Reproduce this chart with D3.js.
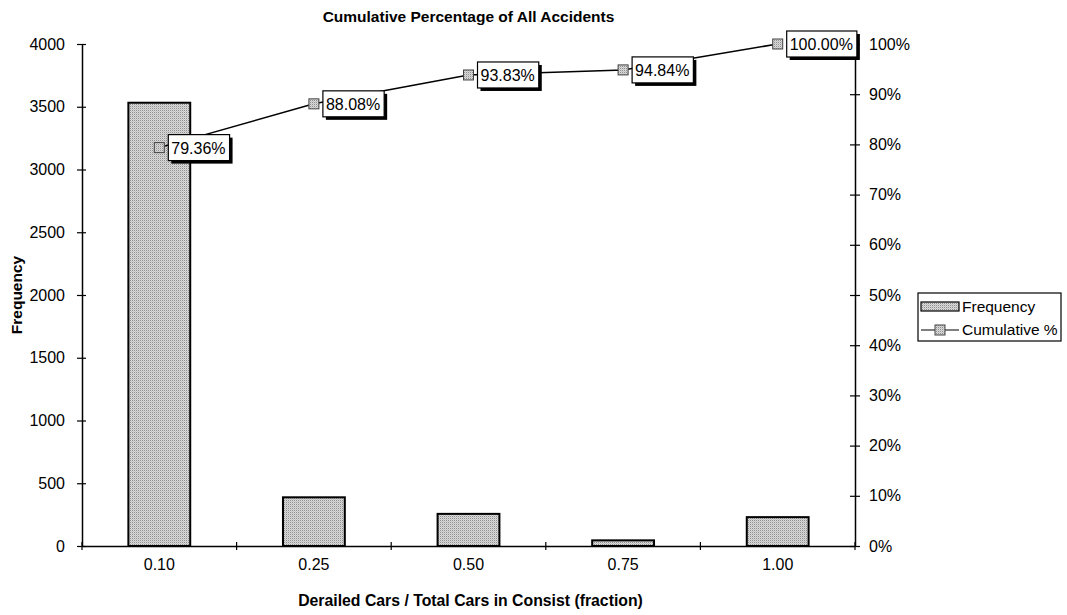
<!DOCTYPE html>
<html><head><meta charset="utf-8">
<script src="https://cdn.jsdelivr.net/npm/d3@7"></script>
<style>
body{margin:0;background:#fff;}
text{font-family:Arial,"Liberation Sans",sans-serif;fill:#000;}
</style></head>
<body><svg id="c" width="1067" height="615"></svg>
<script>
const categories = ["0.10","0.25","0.50","0.75","1.00"];
const frequency = [3532, 388, 256, 45, 230];
const cumulativePct = [79.36, 88.08, 93.83, 94.84, 100.00];
const leftTicks = [0,500,1000,1500,2000,2500,3000,3500,4000];
const rightTicks = [0,10,20,30,40,50,60,70,80,90,100];
const title = "Cumulative Percentage of All Accidents";
const xTitle = "Derailed Cars / Total Cars in Consist (fraction)";
const yTitle = "Frequency";
const seriesNames = ["Frequency","Cumulative %"];

const svg = d3.select("#c");
const L = 82, R = 855, T = 44, B = 546;
const FS = 16;

const defs = svg.append("defs");
const pat = defs.append("pattern").attr("id","dither").attr("width",2).attr("height",2).attr("patternUnits","userSpaceOnUse");
pat.append("rect").attr("width",2).attr("height",2).attr("fill","#dadada");
pat.append("rect").attr("width",1).attr("height",1).attr("fill","#8e8e8e");
pat.append("rect").attr("x",1).attr("y",1).attr("width",1).attr("height",1).attr("fill","#c2c2c2");

const xb = d3.scaleBand().domain(categories).range([L,R]);
const y = d3.scaleLinear().domain([0,4000]).range([B,T]);
const y2 = d3.scaleLinear().domain([0,100]).range([B,T]);

// bars
svg.append("g").selectAll("rect").data(frequency).join("rect")
  .attr("x",(d,i)=>xb(categories[i])+xb.bandwidth()/2 - xb.bandwidth()*0.2)
  .attr("width",xb.bandwidth()*0.4)
  .attr("y",d=>y(d)).attr("height",d=>B-y(d))
  .attr("fill","url(#dither)").attr("stroke","#000").attr("stroke-width",2);

// left axis
const la = svg.append("g").attr("transform",`translate(${L},0)`)
  .call(d3.axisLeft(y).tickValues(leftTicks).tickFormat(d3.format("d")).tickSizeInner(5).tickSizeOuter(0).tickPadding(12));
la.selectAll(".tick line").attr("x2",4).attr("x1",-5).attr("stroke-width",1.2);
la.select(".domain").attr("stroke-width",1.5);
la.selectAll("text").attr("font-size",FS).attr("font-family","Arial, Liberation Sans");

// right axis
const ra = svg.append("g").attr("transform",`translate(${R},0)`)
  .call(d3.axisRight(y2).tickValues(rightTicks).tickFormat(d=>d+"%").tickSizeInner(5).tickSizeOuter(0).tickPadding(9));
ra.selectAll(".tick line").attr("x1",-5).attr("x2",5).attr("stroke-width",1.2);
ra.select(".domain").attr("stroke-width",1.5);
ra.selectAll("text").attr("font-size",FS).attr("font-family","Arial, Liberation Sans");

// bottom axis
const ba = svg.append("g").attr("transform",`translate(0,${B})`)
  .call(d3.axisBottom(xb).tickSize(0).tickPadding(13));
ba.select(".domain").attr("stroke-width",1.5);
ba.selectAll("text").attr("font-size",FS).attr("font-family","Arial, Liberation Sans");
const seps = d3.range(categories.length+1).map(i=>L + i*xb.step());
svg.append("g").selectAll("line").data(seps).join("line")
  .attr("x1",d=>d).attr("x2",d=>d).attr("y1",B-4).attr("y2",B+4)
  .attr("stroke","#000").attr("stroke-width",1.2);

// cumulative line
const cx = (i)=>xb(categories[i])+xb.bandwidth()/2;
svg.append("path").datum(cumulativePct)
  .attr("d",d3.line().x((d,i)=>cx(i)).y(d=>y2(d)))
  .attr("fill","none").attr("stroke","#000").attr("stroke-width",1.5);
svg.append("g").selectAll("rect").data(cumulativePct).join("rect")
  .attr("x",(d,i)=>cx(i)-5).attr("y",d=>y2(d)-5).attr("width",10).attr("height",10)
  .attr("fill","url(#dither)").attr("stroke","#444").attr("stroke-width",1);

// data labels
const lg = svg.append("g").selectAll("g").data(cumulativePct).join("g")
  .attr("transform",(d,i)=>`translate(${cx(i)+9},${y2(d)})`);
lg.each(function(d){
  const g = d3.select(this);
  const t = g.append("text").attr("x",3).attr("y",6).attr("font-size",FS).text(d.toFixed(2)+"%");
  const w = t.node().getComputedTextLength()+7;
  g.insert("rect","text").attr("x",3).attr("y",-10).attr("width",w).attr("height",26).attr("fill","#000");
  g.insert("rect","text").attr("x",0).attr("y",-13).attr("width",w).attr("height",26)
    .attr("fill","#fff").attr("stroke","#000").attr("stroke-width",1.2);
});

// titles
svg.append("text").attr("x",(L+R)/2).attr("y",22).attr("text-anchor","middle")
  .attr("font-size",15.5).attr("font-weight","bold").text(title);
svg.append("text").attr("x",(L+R)/2+2).attr("y",606).attr("text-anchor","middle")
  .attr("font-size",15.8).attr("font-weight","bold").text(xTitle);
svg.append("text").attr("transform",`translate(22,${(T+B)/2}) rotate(-90)`).attr("text-anchor","middle")
  .attr("font-size",15.5).attr("font-weight","bold").text(yTitle);

// legend
const leg = svg.append("g").attr("transform","translate(918,293)");
leg.append("rect").attr("width",143).attr("height",48).attr("fill","#fff").attr("stroke","#000").attr("stroke-width",1.2);
leg.append("rect").attr("x",3).attr("y",9).attr("width",38).attr("height",9)
  .attr("fill","url(#dither)").attr("stroke","#000").attr("stroke-width",1.2);
leg.append("text").attr("x",44).attr("y",19).attr("font-size",15.5).text(seriesNames[0]);
leg.append("line").attr("x1",3).attr("x2",41).attr("y1",37).attr("y2",37).attr("stroke","#000").attr("stroke-width",1.2);
leg.append("rect").attr("x",17).attr("y",32).attr("width",10).attr("height",10)
  .attr("fill","url(#dither)").attr("stroke","#444");
leg.append("text").attr("x",44).attr("y",42).attr("font-size",15.5).text(seriesNames[1]);
</script></body></html>
